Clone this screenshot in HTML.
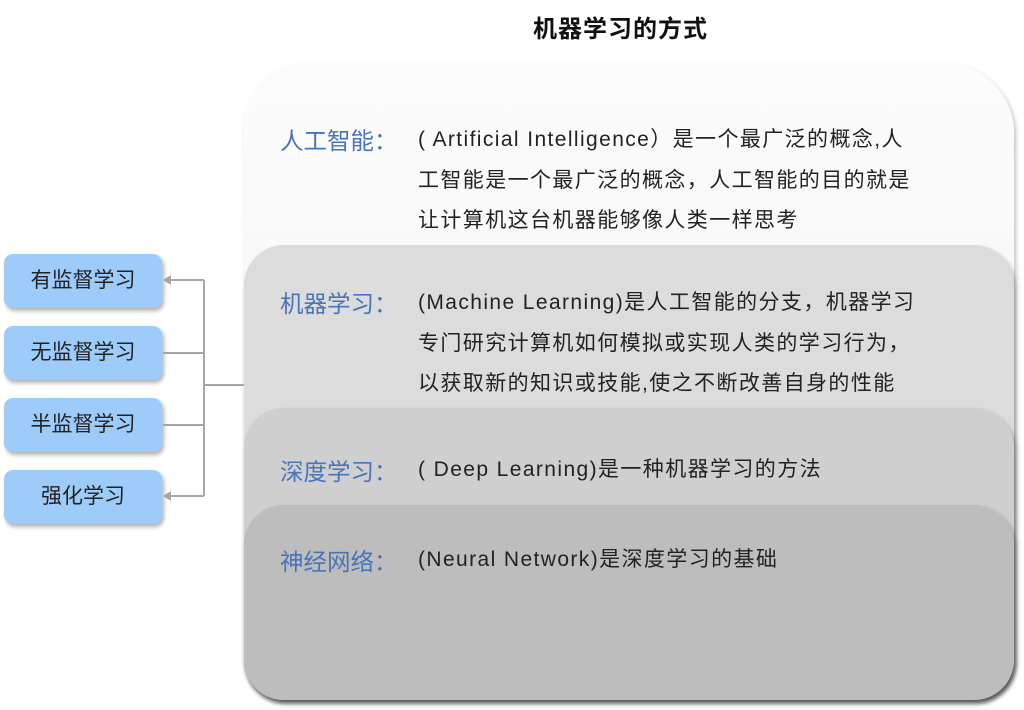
<!DOCTYPE html>
<html><head><meta charset="utf-8"><style>
body{margin:0;width:1024px;height:710px;background:#fff;position:relative;overflow:hidden;font-family:"Liberation Sans","Noto Sans CJK SC",sans-serif;}
.title{position:absolute;left:533px;top:9px;font-size:24px;font-weight:bold;color:#111;letter-spacing:1px;}
.layer{position:absolute;left:244px;width:770px;border-radius:40px;box-shadow:2px 3px 5px rgba(0,0,0,0.25);}
.lab{position:absolute;left:280px;font-size:23.5px;color:#4a74b8;}
.txt{position:absolute;left:418px;font-size:21px;color:#222;line-height:40.5px;letter-spacing:1.4px;white-space:nowrap;}
.box{position:absolute;left:4px;width:158px;height:54px;background:#9dcbfa;border-radius:9px;box-shadow:2px 3px 4px rgba(0,0,0,0.3);font-size:21px;color:#222;line-height:54px;text-align:center;}
</style></head><body>
<div class="title">机器学习的方式</div>
<div class="layer" style="top:63px;height:637px;border-radius:60px 70px 40px 40px;background:linear-gradient(#fcfcfc,#f2f2f2);"></div>
<div class="layer" style="top:245px;height:455px;background:#dcdcdc;"></div>
<div class="layer" style="top:408px;height:292px;background:#cfcfcf;"></div>
<div class="layer" style="top:505px;height:195px;background:#bdbdbd;"></div>

<div class="lab" style="top:122px">人工智能：</div>
<div class="txt" style="top:120px">( Artificial Intelligence）是一个最广泛的概念,人<br>工智能是一个最广泛的概念，人工智能的目的就是<br>让计算机这台机器能够像人类一样思考</div>
<div class="lab" style="top:285px">机器学习：</div>
<div class="txt" style="top:283px">(Machine Learning)是人工智能的分支，机器学习<br>专门研究计算机如何模拟或实现人类的学习行为，<br>以获取新的知识或技能,使之不断改善自身的性能</div>
<div class="lab" style="top:453px">深度学习：</div>
<div class="txt" style="top:450px">( Deep Learning)是一种机器学习的方法</div>
<div class="lab" style="top:543px">神经网络：</div>
<div class="txt" style="top:540px">(Neural Network)是深度学习的基础</div>

<div class="box" style="top:254px">有监督学习</div>
<div class="box" style="top:326px">无监督学习</div>
<div class="box" style="top:398px">半监督学习</div>
<div class="box" style="top:470px">强化学习</div>

<svg style="position:absolute;left:0;top:0" width="1024" height="710">
<g stroke="#a6a6a6" stroke-width="2" fill="none">
<path d="M204 280V496M204 385H244M204 353H163M204 425H163M204 280H168M204 496H168"/>
</g>
<path d="M163 280l8-5v10z M163 496l8-5v10z" fill="#a6a6a6"/>
</svg>
</body></html>
